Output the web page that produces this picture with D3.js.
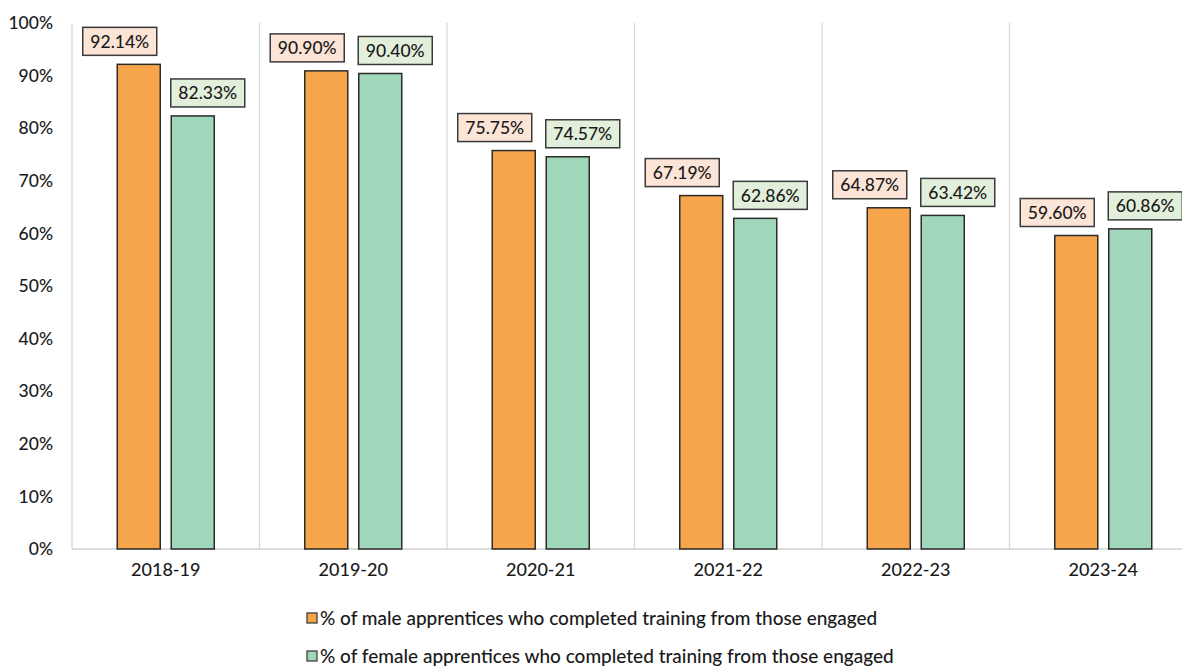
<!DOCTYPE html>
<html>
<head>
<meta charset="utf-8">
<script src="https://cdn.jsdelivr.net/npm/d3@7"></script>
<style>
  html, body { margin: 0; padding: 0; background: #fff; }
  svg { display: block; font-family: Lato, "Open Sans", sans-serif; }
</style>
</head>
<body>
<svg id="chart" width="1182" height="666"></svg>
<script>
// Completion rates of apprentices by year
const years = ["2018-19", "2019-20", "2020-21", "2021-22", "2022-23", "2023-24"];
const maleRates = [92.14, 90.90, 75.75, 67.19, 64.87, 59.60];
const femaleRates = [82.33, 90.40, 74.57, 62.86, 63.42, 60.86];
const seriesNames = [
  "% of male apprentices who completed training from those engaged",
  "% of female apprentices who completed training from those engaged"
];
const yTicks = [0, 10, 20, 30, 40, 50, 60, 70, 80, 90, 100];

const colors = ["#F7A54A", "#A0D6BA"];
const labelFills = ["#FCE4D6", "#E2EFDA"];
const textColor = "#1a1a1a";

const svg = d3.select("#chart");
const plot = { left: 72, right: 1197, top: 23, bottom: 549 };

const x = d3.scaleBand().domain(years).range([plot.left, plot.right]).paddingInner(0).paddingOuter(0);
const y = d3.scaleLinear().domain([0, 100]).range([plot.bottom, plot.top]);

const barW = 43, barGap = 11;

// vertical category separators
const bounds = years.map(d => x(d)).concat([plot.right]);
svg.append("g").selectAll("line").data(bounds).join("line")
  .attr("x1", d => d).attr("x2", d => d)
  .attr("y1", plot.top).attr("y2", plot.bottom)
  .attr("stroke", "#d9d9d9").attr("stroke-width", 1.3);

// baseline
svg.append("line")
  .attr("x1", plot.left).attr("x2", plot.right)
  .attr("y1", plot.bottom).attr("y2", plot.bottom)
  .attr("stroke", "#d0d0d0").attr("stroke-width", 1.5);

// y axis labels
const yAxis = d3.axisLeft(y).tickValues(yTicks).tickFormat(d => d + "%").tickSize(0).tickPadding(0);
const yg = svg.append("g").attr("transform", `translate(${plot.left - 19},0)`).call(yAxis);
yg.select(".domain").remove();
yg.selectAll("text").attr("font-size", 17.5).attr("fill", textColor)
  .attr("font-family", "Lato, sans-serif").attr("font-weight", 500);

// x axis labels
const xAxis = d3.axisBottom(x).tickSize(0).tickPadding(0);
const xg = svg.append("g").attr("transform", `translate(0,${plot.bottom + 14})`).call(xAxis);
xg.select(".domain").remove();
xg.selectAll("text").attr("font-size", 18).attr("fill", textColor)
  .attr("font-family", "Lato, sans-serif").attr("font-weight", 500).attr("dy", "0.71em");

const series = [maleRates, femaleRates];
const barX = (i, s) => x(years[i]) + x.bandwidth() / 2 + (s === 0 ? -barGap / 2 - barW : barGap / 2);
const labelShift = [-19, 15];

series.forEach((vals, s) => {
  const g = svg.append("g");
  g.selectAll("rect").data(vals).join("rect")
    .attr("x", (d, i) => barX(i, s))
    .attr("y", d => y(d))
    .attr("width", barW)
    .attr("height", d => y(0) - y(d))
    .attr("fill", colors[s])
    .attr("stroke", "#2b2b2b")
    .attr("stroke-width", 1.5);

  // value labels in boxes
  const lg = svg.append("g").selectAll("g").data(vals).join("g")
    .attr("transform", (d, i) => `translate(${barX(i, s) + barW / 2 + labelShift[s]},${y(d) - 23})`);
  lg.append("rect")
    .attr("x", -37).attr("y", -14).attr("width", 74).attr("height", 28)
    .attr("fill", labelFills[s]).attr("stroke", "#3a3a3a").attr("stroke-width", 1.5);
  lg.append("text")
    .attr("text-anchor", "middle").attr("dy", "0.36em")
    .attr("font-size", 17.5).attr("font-weight", 500).attr("fill", textColor)
    .text(d => d.toFixed(2) + "%");
});

// legend
const leg = svg.append("g").selectAll("g").data(seriesNames).join("g")
  .attr("transform", (d, i) => `translate(307,${618 + i * 38})`);
leg.append("rect").attr("x", 0).attr("y", -5).attr("width", 10).attr("height", 10)
  .attr("fill", (d, i) => colors[i]).attr("stroke", "#333").attr("stroke-width", 1.2);
leg.append("text").attr("x", 13).attr("dy", "0.35em")
  .attr("font-size", 19).attr("font-weight", 500).attr("fill", textColor).text(d => d);
</script>
</body>
</html>
